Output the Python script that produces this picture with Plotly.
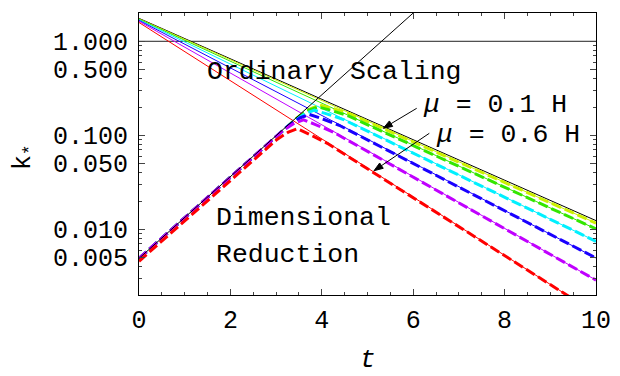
import math
import plotly.graph_objects as go

# ---- data ----
t_span = [0, 10]
k_black = [1.754, 0.01236]
k_yellow = [1.734, 0.01164]
k_green = [1.714, 0.01009]
k_cyan = [1.694, 0.00745]
k_blue = [1.667, 0.004955]
k_magenta = [1.633, 0.00288]
k_red = [1.585, 0.00127]

t_diag = [0, 6.0]
k_diag = [0.0049, 2.0]
k_unit = [1.0, 1.0]

t_yellow_d = [0, 3.51, 3.76, 3.96, 4.21, 4.61, 10]
k_yellow_d = [0.0049, 0.1607, 0.1928, 0.2089, 0.1950, 0.1698, 0.01164]
t_green_d = [0, 3.47, 3.72, 3.92, 4.17, 4.57, 10]
k_green_d = [0.0049, 0.1542, 0.1849, 0.2004, 0.1862, 0.1614, 0.01009]
t_cyan_d = [0, 3.39, 3.64, 3.84, 4.09, 4.49, 10]
k_cyan_d = [0.0049, 0.1422, 0.1706, 0.1849, 0.1702, 0.1459, 0.00745]
t_blue_d = [0, 3.28, 3.53, 3.73, 3.98, 4.38, 10]
k_blue_d = [0.0049, 0.1282, 0.1538, 0.1667, 0.1517, 0.1279, 0.004955]
t_magenta_d = [0, 3.15, 3.40, 3.60, 3.85, 4.25, 10]
k_magenta_d = [0.0049, 0.1125, 0.1349, 0.1462, 0.1309, 0.1081, 0.00288]
t_red_d = [0, 3.02, 3.27, 3.47, 3.72, 4.12, 10]
k_red_d = [0.00457, 0.0904, 0.1084, 0.1175, 0.1028, 0.0822, 0.00127]

x_tickvals = [0, 2, 4, 6, 8, 10]
y_tickvals = [0.005, 0.01, 0.05, 0.1, 0.5, 1]
y_ticktext = ["0.005", "0.010", "0.050", "0.100", "0.500", "1.000"]
y_minor = [0.002, 0.003, 0.004, 0.006, 0.007, 0.008, 0.009,
           0.02, 0.03, 0.04, 0.06, 0.07, 0.08, 0.09,
           0.2, 0.3, 0.4, 0.6, 0.7, 0.8, 0.9, 2]

C_Y, C_G, C_C, C_B, C_M, C_R = "#ccf000", "#33e600", "#00f0ff", "#1a00ff", "#c000ff", "#ff0000"
MONO = "Liberation Mono"

fig = go.Figure()

def line(x, y, color, width=1, dash="solid"):
    fig.add_trace(go.Scatter(x=x, y=y, mode="lines", showlegend=False, hoverinfo="skip",
                             line=dict(color=color, width=width, dash=dash)))

line(t_span, k_unit, "#222222", 1)
line(t_span, k_black, "black", 1)
for ks, c in [(k_yellow, C_Y), (k_green, C_G), (k_cyan, C_C), (k_blue, C_B), (k_magenta, C_M), (k_red, C_R)]:
    line(t_span, ks, c, 1)
for ts, ks, c in [(t_yellow_d, k_yellow_d, C_Y), (t_green_d, k_green_d, C_G), (t_cyan_d, k_cyan_d, C_C),
                  (t_blue_d, k_blue_d, C_B), (t_magenta_d, k_magenta_d, C_M), (t_red_d, k_red_d, C_R)]:
    line(ts, ks, c, 3, "10px,4px")
line(t_diag, k_diag, "black", 1)

# plot-area edges in screen pixels; the page body adds an 8px margin
OFF = 8
FW, FH = 612, 368
L, R, T, B = 139, 596, 13, 295
W, H = R - L, B - T

def px(X):
    return (X - L) / W

def py(Y):
    return (B - Y) / H

def text(s, X, Y, size=26.5, anchor="left", **kw):
    fig.add_annotation(text=s, x=px(X), y=py(Y), xref="paper", yref="paper",
                       xanchor=anchor, yanchor="middle", showarrow=False, borderpad=0,
                       font=dict(family=MONO, size=size, color="black"), **kw)

text("Ordinary Scaling", 206, 72)
text("<i>μ</i> = 0.1 H", 422, 105)
text("<i>μ</i> = 0.6 H", 435, 135)
text("Dimensional", 215, 218)
text("Reduction", 215, 255)

# label arrows (shaft + filled head) in paper space
for tipX, tipY, tailX, tailY in [(383.3, 128.3, 416.7, 108.3), (374, 170.7, 429.3, 133.3)]:
    dx, dy = tipX - tailX, tipY - tailY
    n = math.hypot(dx, dy)
    ux, uy = dx / n, dy / n
    hl, hw = 9, 3.2
    bx, by = tipX - ux * hl, tipY - uy * hl
    p1 = (bx - uy * hw, by + ux * hw)
    p2 = (bx + uy * hw, by - ux * hw)
    fig.add_shape(type="line", xref="paper", yref="paper",
                  x0=px(tailX), y0=py(tailY), x1=px(bx), y1=py(by),
                  line=dict(color="black", width=1))
    path = "M {} {} L {} {} L {} {} Z".format(px(tipX), py(tipY), px(p1[0]), py(p1[1]), px(p2[0]), py(p2[1]))
    fig.add_shape(type="path", xref="paper", yref="paper", path=path,
                  fillcolor="black", line=dict(color="black", width=1))

# axis titles
text("<i>t</i>", 368, 360, size=26, anchor="center")
text("k<sub>*</sub>", 24, 157, size=25, anchor="center", textangle=-90)

fig.update_layout(
    width=FW, height=FH,
    margin=dict(l=L - OFF, r=FW - (R - OFF), t=T - OFF, b=FH - (B - OFF), autoexpand=False),
    paper_bgcolor="white", plot_bgcolor="white",
    xaxis=dict(range=[0, 10], tickvals=x_tickvals, ticks="inside", ticklen=6, tickwidth=1,
               tickcolor="#444", showline=True, linecolor="black", linewidth=1, mirror="allticks",
               showgrid=False, zeroline=False, ticklabelstandoff=2,
               tickfont=dict(family=MONO, size=25, color="black"),
               minor=dict(dtick=0.5, ticks="inside", ticklen=3, tickcolor="#444", showgrid=False)),
    yaxis=dict(type="log", range=[-2.699, 0.301], tickvals=y_tickvals, ticktext=y_ticktext,
               ticks="inside", ticklen=6, tickwidth=1, tickcolor="#444",
               showline=True, linecolor="black", linewidth=1, mirror="allticks",
               showgrid=False, zeroline=False, ticklabelstandoff=5,
               tickfont=dict(family=MONO, size=25, color="black"),
               minor=dict(tickvals=y_minor, ticks="inside", ticklen=3, tickcolor="#444", showgrid=False)),
)

fig.write_html("out.html")
